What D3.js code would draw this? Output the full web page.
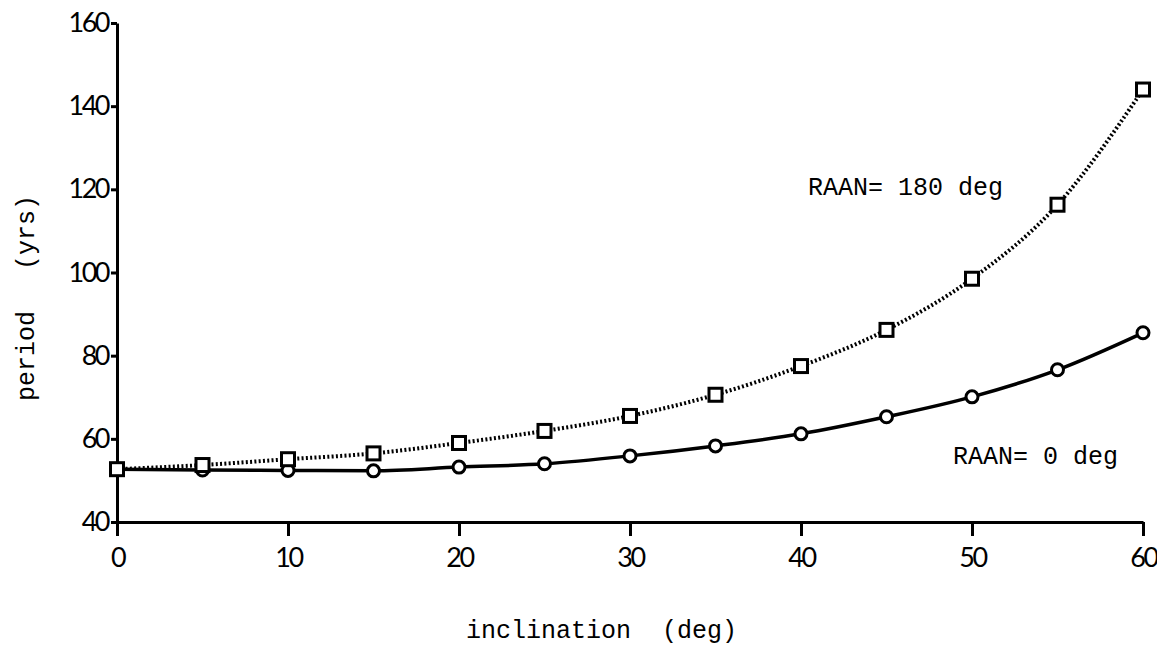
<!DOCTYPE html>
<html>
<head>
<meta charset="utf-8">
<script src="https://cdn.jsdelivr.net/npm/d3@7"></script>
<style>
  body { margin: 0; background: #fff; }
  .tick text { font-family: Lato, "DejaVu Sans", sans-serif; font-size: 27px; letter-spacing: -2.5px; fill: #000; }
  .lbl { font-family: "Liberation Mono", "DejaVu Sans Mono", monospace; font-size: 25px; fill: #000; white-space: pre; }
</style>
</head>
<body>
<div id="chart"></div>
<script>
// inclination (deg) vs period (yrs)
var inclination = [0, 5, 10, 15, 20, 25, 30, 35, 40, 45, 50, 55, 60];
var raan0 =   [52.7, 52.5, 52.4, 52.3, 53.2, 54.0, 55.9, 58.3, 61.2, 65.3, 70.1, 76.6, 85.5];
var raan180 = [52.7, 53.7, 55.1, 56.5, 59.0, 61.9, 65.5, 70.6, 77.5, 86.2, 98.5, 116.3, 144.0];
var xTicks = [0, 10, 20, 30, 40, 50, 60];
var yTicks = [40, 60, 80, 100, 120, 140, 160];
var seriesLabels = ["RAAN= 180 deg", "RAAN= 0 deg"];

var width = 1157, height = 653;

var x = d3.scaleLinear().domain([0, 60]).range([117, 1143]);
var y = d3.scaleLinear().domain([40, 160]).range([522, 23]);

var svg = d3.select("#chart").append("svg")
    .attr("width", width)
    .attr("height", height);

// axes
svg.append("g")
    .attr("transform", "translate(0,522)")
    .call(d3.axisBottom(x).tickValues(xTicks).tickSize(14).tickSizeOuter(0).tickPadding(12));
svg.append("g")
    .attr("transform", "translate(117,0)")
    .call(d3.axisLeft(y).tickValues(yTicks).tickSize(6).tickSizeOuter(0).tickPadding(3));

svg.selectAll(".domain").attr("stroke", "#000").attr("stroke-width", 3);
svg.selectAll(".tick line").attr("stroke", "#000").attr("stroke-width", 3);

var line = d3.line()
    .x(function(d) { return x(d[0]); })
    .y(function(d) { return y(d[1]); })
    .curve(d3.curveMonotoneX);

var d0 = inclination.map(function(v, i) { return [v, raan0[i]]; });
var d180 = inclination.map(function(v, i) { return [v, raan180[i]]; });

svg.append("path")
    .datum(d0)
    .attr("fill", "none")
    .attr("stroke", "#000")
    .attr("stroke-width", 3.5)
    .attr("d", line);

svg.append("path")
    .datum(d180)
    .attr("fill", "none")
    .attr("stroke", "#000")
    .attr("stroke-width", 4)
    .attr("stroke-dasharray", "2,2.3")
    .attr("d", line);

svg.append("g").selectAll("circle")
    .data(d0)
    .enter().append("circle")
    .attr("cx", function(d) { return x(d[0]); })
    .attr("cy", function(d) { return y(d[1]); })
    .attr("r", 6)
    .attr("fill", "#fff")
    .attr("stroke", "#000")
    .attr("stroke-width", 3);

svg.append("g").selectAll("rect")
    .data(d180)
    .enter().append("rect")
    .attr("x", function(d) { return x(d[0]) - 6.5; })
    .attr("y", function(d) { return y(d[1]) - 6.5; })
    .attr("width", 13)
    .attr("height", 13)
    .attr("fill", "#fff")
    .attr("stroke", "#000")
    .attr("stroke-width", 3);

// series labels
svg.append("text").attr("class", "lbl")
    .attr("x", 808).attr("y", 195)
    .text(seriesLabels[0]);
svg.append("text").attr("class", "lbl")
    .attr("x", 953).attr("y", 464)
    .text(seriesLabels[1]);

// axis titles
svg.append("text").attr("class", "lbl")
    .attr("x", 466).attr("y", 638)
    .text("inclination");
svg.append("text").attr("class", "lbl")
    .attr("x", 662).attr("y", 638)
    .text("(deg)");

svg.append("text").attr("class", "lbl")
    .attr("transform", "translate(34,401) rotate(-90)")
    .text("period");
svg.append("text").attr("class", "lbl")
    .attr("transform", "translate(34,270) rotate(-90)")
    .text("(yrs)");
</script>
</body>
</html>
